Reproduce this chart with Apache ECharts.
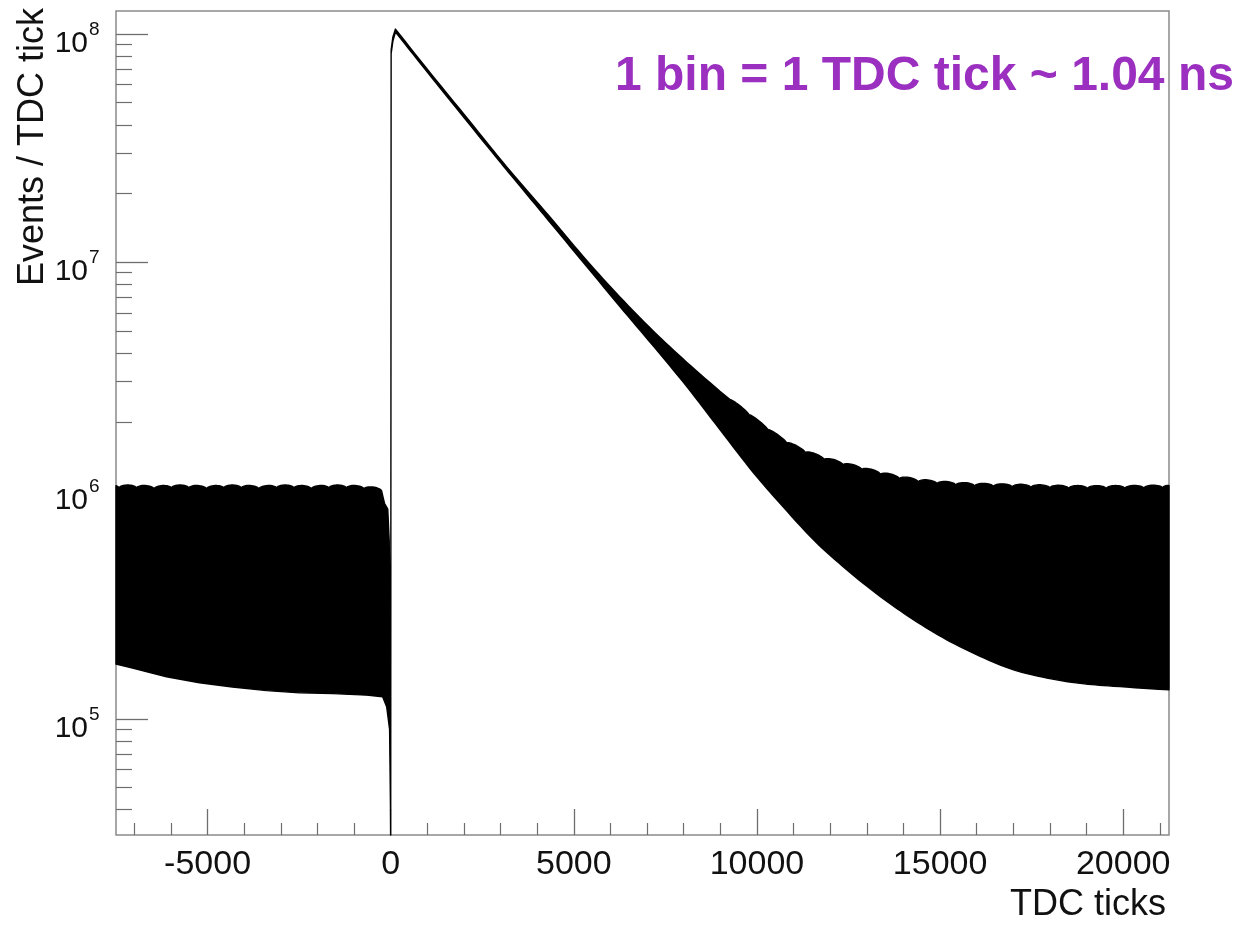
<!DOCTYPE html>
<html>
<head>
<meta charset="utf-8">
<script src="https://cdn.jsdelivr.net/npm/echarts@6/dist/echarts.min.js"></script>
<style>
  html, body { margin: 0; padding: 0; background: #fff; }
  #chart { width: 1241px; height: 925px; }
</style>
</head>
<body>
<div id="chart"></div>
<script>
// ---- axis ranges and ticks ----
const xRange = [-7500, 21250];
const yRange = [3.1e4, 1.26e8];
const xMajorTicks = [-5000, 0, 5000, 10000, 15000, 20000];
const xTickLabels = ['-5000', '0', '5000', '10000', '15000', '20000'];
const xMinorTicks = [-7000, -6000, -4000, -3000, -2000, -1000, 1000, 2000, 3000, 4000,
  6000, 7000, 8000, 9000, 11000, 12000, 13000, 14000, 16000, 17000, 18000, 19000, 21000];
const yMajorTicks = [1e5, 1e6, 1e7, 1e8];
const yTickExponents = ['5', '6', '7', '8'];
const yMinorTicks = [4e4, 5e4, 6e4, 7e4, 8e4, 9e4,
  2e5, 3e5, 4e5, 5e5, 6e5, 7e5, 8e5, 9e5,
  2e6, 3e6, 4e6, 5e6, 6e6, 7e6, 8e6, 9e6,
  2e7, 3e7, 4e7, 5e7, 6e7, 7e7, 8e7, 9e7];

// ---- histogram envelope (events per TDC tick) ----
// upper edge before the muon stop, one point per ripple cusp
const topLeftX = [-7500, -7420, -6940, -6460, -5990, -5510, -5030, -4560, -4080,
  -3600, -3120, -2640, -2170, -1690, -1210, -730, -250];
const topLeftY = [1.05e6, 1.03e6, 1.03e6, 1.02e6, 1.03e6, 1.03e6, 1.02e6, 1.03e6, 1.03e6,
  1.02e6, 1.03e6, 1.03e6, 1.02e6, 1.03e6, 1.03e6, 1.02e6, 1.0e6];
// upper edge through the stop time, the peak and the exponential decay
const edgeX = [-170, -80, -40, -25, -10, 0, 12, 60, 130, 1000, 2000, 3000, 3525,
  4435, 5346, 6257, 7167, 8079, 8989];
const edgeY = [8.8e5, 8.3e5, 6.0e5, 3.0e5, 2.6e5, 2.0e4, 8.5e7, 9.7e7, 1.05e8, 7.0e7,
  4.45e7, 2.82e7, 2.24e7, 1.52e7, 1.02e7, 7.05e6, 5.0e6, 3.65e6, 2.72e6];
// upper edge of the late flat background, one point per ripple cusp
const topRightX = [9273, 9786, 10299, 10812, 11325, 11838, 12351, 12864, 13377, 13890,
  14403, 14916, 15429, 15942, 16455, 16968, 17481, 17994, 18507, 19020, 19533, 20046,
  20559, 21072, 21250];
const topRightY = [2.5e6, 2.15e6, 1.85e6, 1.62e6, 1.47e6, 1.37e6, 1.30e6, 1.24e6, 1.18e6,
  1.13e6, 1.095e6, 1.075e6, 1.06e6, 1.05e6, 1.045e6, 1.04e6, 1.035e6, 1.03e6, 1.025e6,
  1.024e6, 1.024e6, 1.025e6, 1.027e6, 1.03e6, 1.05e6];
// lower edge, left to right
const bottomX = [-7500, -7050, -6120, -5220, -4320, -3390, -2490, -1580, -660, -220, -110,
  -30, -5, 0, 12, 60, 130, 1000, 2000, 3000, 3525, 4435, 5346, 6257, 7167, 8079, 8989,
  9899, 10628, 11539, 12450, 13361, 14270, 15183, 16093, 17004, 17915, 18825, 19735, 21250];
const bottomY = [1.74e5, 1.67e5, 1.53e5, 1.44e5, 1.38e5, 1.33e5, 1.30e5, 1.29e5, 1.27e5,
  1.25e5, 1.13e5, 9.0e4, 4.0e4, 2.0e4, 8.2e7, 9.3e7, 1.02e8, 6.8e7, 4.3e7, 2.73e7, 2.16e7,
  1.44e7, 9.6e6, 6.4e6, 4.3e6, 2.86e6, 1.85e6, 1.2e6, 8.8e5, 6.1e5, 4.5e5, 3.44e5, 2.72e5,
  2.22e5, 1.88e5, 1.64e5, 1.51e5, 1.43e5, 1.39e5, 1.34e5];

const FONT = '"Liberation Sans", Arial, Helvetica, sans-serif';
const FRAME = '#8a8a8a';
const TICK = '#6e6e6e';
const BUMP = 2.6;          // ripple height in px between cusps (flat stretches)
const SMOOTH_FROM = 130;   // the decay edges are drawn as smooth curves from the peak on

// Catmull-Rom densification of a pixel polyline
function smoothLine(p) {
  if (p.length < 3) return p.slice();
  const out = [p[0]];
  for (let i = 0; i < p.length - 1; i++) {
    const p0 = p[Math.max(0, i - 1)], p1 = p[i], p2 = p[i + 1], p3 = p[Math.min(p.length - 1, i + 2)];
    for (let k = 1; k <= 8; k++) {
      const t = k / 8, t2 = t * t, t3 = t2 * t;
      const f = (a, b, c, d) => 0.5 * ((2 * b) + (-a + c) * t + (2 * a - 5 * b + 4 * c - d) * t2 + (-a + 3 * b - 3 * c + d) * t3);
      out.push([f(p0[0], p1[0], p2[0], p3[0]), f(p0[1], p1[1], p2[1], p3[1])]);
    }
  }
  return out;
}

function renderHistogram(params, api) {
  const box = params.coordSys;
  const bottom = box.y + box.height;
  const px = (x, y) => {
    const p = api.coord([x, y]);
    return [p[0], Math.min(p[1], bottom)];
  };
  const pts = [];
  const addRipples = (xs, ys) => {
    for (let i = 0; i < xs.length; i++) {
      const b = px(xs[i], ys[i]);
      if (i > 0) {
        const a = pts[pts.length - 1];
        const dx = Math.abs(b[0] - a[0]), dy = b[1] - a[1];
        const flat = dx * dx / (dx * dx + dy * dy + 1e-9);
        const h = Math.min(BUMP, dx * 0.15) * flat;
        for (let k = 1; k < 12; k++) {
          const t = k / 12;
          pts.push([a[0] + (b[0] - a[0]) * t,
                    a[1] + dy * t - h * Math.pow(Math.sin(Math.PI * t), 0.6)]);
        }
      }
      pts.push(b);
    }
  };
  const outline = (xs, ys) => {
    const sharp = [], soft = [];
    for (let i = 0; i < xs.length; i++) (xs[i] < SMOOTH_FROM ? sharp : soft).push(px(xs[i], ys[i]));
    return sharp.concat(smoothLine(soft));
  };
  addRipples(topLeftX, topLeftY);
  outline(edgeX, edgeY).forEach((q) => pts.push(q));
  addRipples(topRightX, topRightY);
  outline(bottomX, bottomY).reverse().forEach((q) => pts.push(q));
  return {
    type: 'polygon',
    shape: { points: pts },
    style: { fill: '#000', stroke: '#000', lineWidth: 1.4, lineJoin: 'round' }
  };
}

// "10" with the exponent raised, next to each decade tick
function renderDecadeLabel(params, api) {
  const p = api.coord([xRange[0], api.value(1)]);
  const ax = p[0] - 28;
  return {
    type: 'group',
    children: [
      { type: 'text', x: ax, y: p[1] + 10,
        style: { text: '10', font: '30px ' + FONT, fill: '#111', textAlign: 'right', textVerticalAlign: 'middle' } },
      { type: 'text', x: ax + 1, y: p[1] - 4,
        style: { text: yTickExponents[params.dataIndex], font: '19px ' + FONT, fill: '#111',
          textAlign: 'left', textVerticalAlign: 'middle' } }
    ]
  };
}

const chart = echarts.init(document.getElementById('chart'), null, { renderer: 'canvas' });

chart.setOption({
  animation: false,
  grid: {
    left: 116, right: 72, top: 11, bottom: 90,
    show: true, borderColor: FRAME, borderWidth: 1.5, backgroundColor: 'transparent'
  },
  xAxis: [
    {
      type: 'value', min: xRange[0], max: xRange[1], position: 'bottom',
      axisLine: { show: false, onZero: false },
      splitLine: { show: false },
      axisTick: { show: true, inside: true, length: 26, customValues: xMajorTicks,
        lineStyle: { color: TICK, width: 1.3 } },
      axisLabel: {
        show: true, customValues: xMajorTicks, margin: 13,
        fontFamily: FONT, fontSize: 34, color: '#111',
        formatter: (v) => xTickLabels[xMajorTicks.indexOf(v)]
      }
    },
    {
      type: 'value', min: xRange[0], max: xRange[1], position: 'bottom',
      axisLine: { show: false, onZero: false },
      splitLine: { show: false },
      axisTick: { show: true, inside: true, length: 12, customValues: xMinorTicks,
        lineStyle: { color: TICK, width: 1.2 } },
      axisLabel: { show: false }
    }
  ],
  yAxis: [
    {
      type: 'log', logBase: 10, min: yRange[0], max: yRange[1], position: 'left',
      axisLine: { show: false, onZero: false },
      splitLine: { show: false },
      axisTick: { show: true, inside: true, length: 32, customValues: yMajorTicks,
        lineStyle: { color: TICK, width: 1.3 } },
      axisLabel: { show: false }
    },
    {
      type: 'log', logBase: 10, min: yRange[0], max: yRange[1], position: 'left',
      axisLine: { show: false, onZero: false },
      splitLine: { show: false },
      axisTick: { show: true, inside: true, length: 16, customValues: yMinorTicks,
        lineStyle: { color: TICK, width: 1.2 } },
      axisLabel: { show: false }
    }
  ],
  series: [
    {
      type: 'custom',
      coordinateSystem: 'cartesian2d',
      xAxisIndex: 0, yAxisIndex: 0,
      silent: true,
      data: [[0, 1e6]],
      renderItem: renderHistogram,
      z: 3
    },
    {
      type: 'custom',
      coordinateSystem: 'cartesian2d',
      xAxisIndex: 0, yAxisIndex: 0,
      silent: true,
      clip: false,
      data: yMajorTicks.map((v) => [xRange[0], v]),
      renderItem: renderDecadeLabel,
      z: 5
    }
  ],
  graphic: [
    {
      type: 'text', x: 33, y: 8, rotation: Math.PI / 2, z: 10,
      style: { text: 'Events / TDC tick', font: '36px ' + FONT, fill: '#111',
        textAlign: 'right', textVerticalAlign: 'middle' }
    },
    {
      type: 'text', x: 1166, y: 905, z: 10,
      style: { text: 'TDC ticks', font: '36px ' + FONT, fill: '#111',
        textAlign: 'right', textVerticalAlign: 'middle' }
    },
    {
      type: 'text', x: 615, y: 77, z: 10,
      style: { text: '1 bin = 1 TDC tick ~ 1.04 ns', font: 'bold 48px ' + FONT, fill: '#9b30c0',
        textAlign: 'left', textVerticalAlign: 'middle' }
    }
  ]
});
</script>
</body>
</html>
